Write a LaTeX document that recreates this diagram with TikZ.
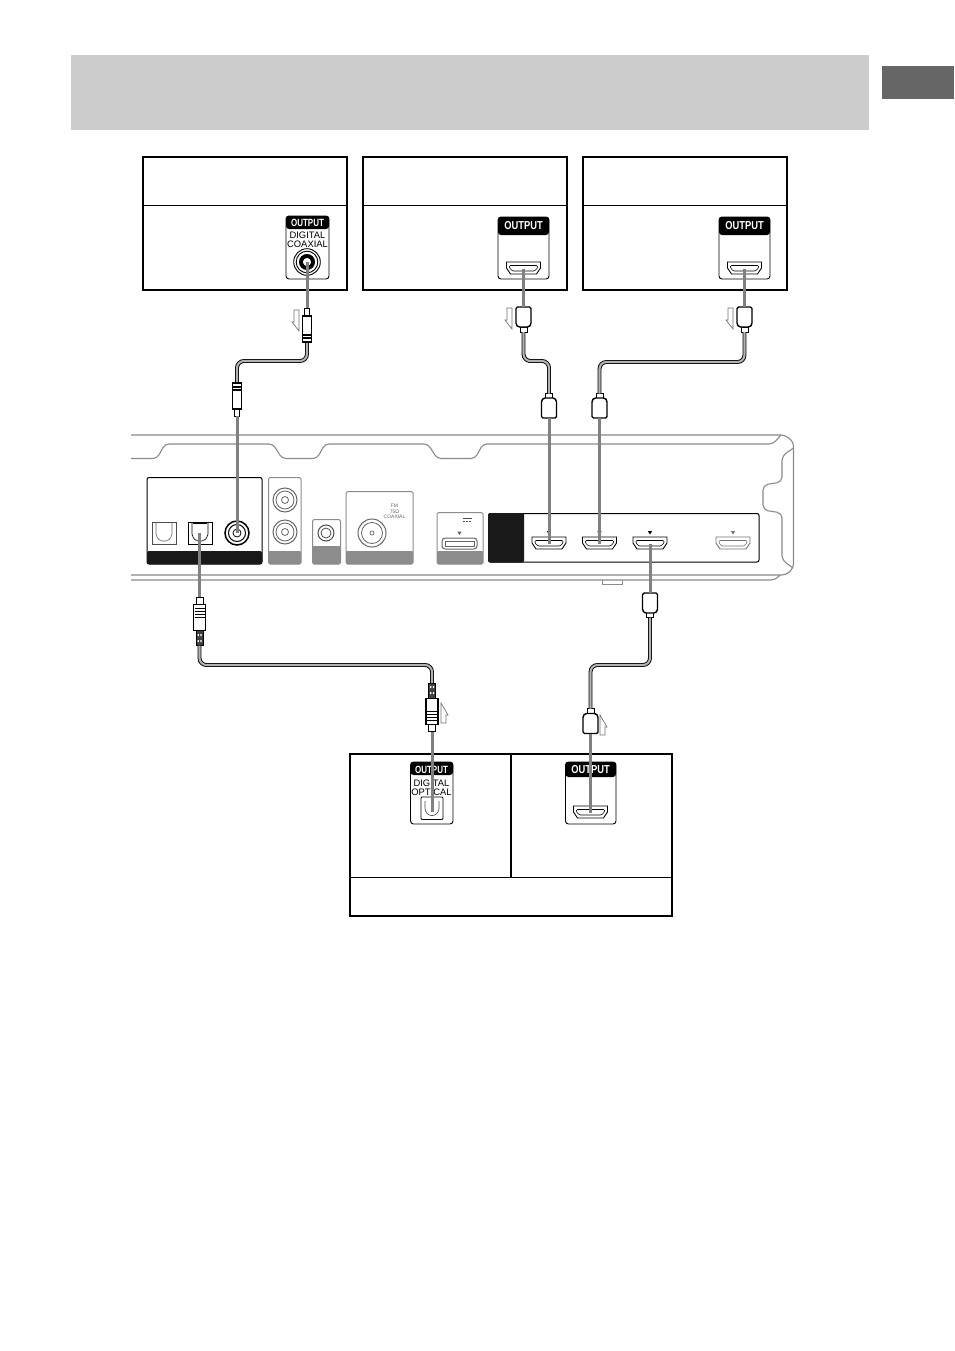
\documentclass[tikz,border=0pt]{standalone}
\usepackage{graphicx}
\usepackage{fontspec}
\setmainfont{Liberation Sans}
\definecolor{pgrey}{HTML}{8C8C8C}
\definecolor{cablegrey}{HTML}{808080}
\definecolor{linegrey}{HTML}{8A8A8A}
\newcommand{\oursmall}{\scalebox{.8}[1.05]{\bfseries\fontsize{10}{10}\selectfont OUTPUT}}
\newcommand{\ourbig}{\scalebox{.85}[1.05]{\bfseries\fontsize{11}{11}\selectfont OUTPUT}}
\tikzset{
  devbox/.style={draw=black,line width=2pt},
  hair/.style={draw=black,line width=1pt},
  badge/.style={draw=black,line width=.9pt,fill=white,rounded corners=3pt},
  outlabel/.style={text=white,inner sep=0pt},
  portlabel/.style={text=black,font=\fontsize{9.4}{9.4}\selectfont,inner sep=0pt,align=center},
  pt/.style={inner sep=0pt,minimum size=0pt,outer sep=0pt},
  signal/.style={draw=cablegrey,line width=3pt},
  cable/.style={draw=black,line width=.9pt,double=white!70!black,double distance=2.1pt,rounded corners=7pt},
  hplugbox/.style={minimum width=15pt,minimum height=20pt,inner sep=0pt,outer sep=0pt},
  hplugline/.style={draw=black,line width=1.4pt,fill=white,rounded corners=1.5pt},
  neck/.style={draw=black,line width=1pt,fill=white,minimum width=7pt,minimum height=5pt,inner sep=0pt,outer sep=0pt},
  oplug/.style={draw=black,line width=1.3pt,fill=white,minimum width=12pt,minimum height=26pt,inner sep=0pt,outer sep=0pt},
  relief/.style={draw=black,fill=black!75,line width=.6pt,minimum width=7pt,minimum height=15pt,inner sep=0pt,outer sep=0pt},
  ctip/.style={draw=black,line width=1pt,fill=white,minimum width=5pt,minimum height=7pt,inner sep=0pt,outer sep=0pt},
  otip/.style={ctip,minimum width=7pt},
  cbody/.style={draw=black,line width=1.2pt,fill=white,minimum width=9pt,minimum height=26pt,inner sep=0pt,outer sep=0pt},
  flow/.style={draw=black!55,line width=.7pt,fill=white},
  panelgrey/.style={draw=pgrey,line width=1pt,fill=white,rounded corners=1.5pt},
  shell/.style={draw=linegrey,line width=1.1pt,rounded corners=4pt},
}
% #1 name, #2 x, #3 y (top of port), #4 colour
\newcommand{\hdmiport}[4]{%
  \draw[#4,line width=.9pt,fill=white] (#2-17,#3) -- (#2+17,#3) -- (#2+17,#3+6) -- (#2+13,#3+12) -- (#2-13,#3+12) -- (#2-17,#3+6) -- cycle;
  \draw[#4,line width=.6pt,rounded corners=1pt] (#2-14,#3+3.5) -- (#2+14,#3+3.5) -- (#2+14,#3+6) -- (#2+11,#3+9) -- (#2-11,#3+9) -- (#2-14,#3+6) -- cycle;
  \node[pt] (#1) at (#2,#3+7) {};}
% plug bodies: #1 name, #2 x, #3 centre y
\newcommand{\hplugdown}[3]{%
  \draw[hplugline] (#2-7.5,#3-10) -- (#2+7.5,#3-10) -- (#2+7.5,#3+7.5) -- (#2+5.5,#3+10) -- (#2-5.5,#3+10) -- (#2-7.5,#3+7.5) -- cycle;
  \node[hplugbox] (#1) at (#2,#3) {};}
\newcommand{\hplugup}[3]{%
  \draw[hplugline] (#2-5.5,#3-10) -- (#2+5.5,#3-10) -- (#2+7.5,#3-7.5) -- (#2+7.5,#3+10) -- (#2-7.5,#3+10) -- (#2-7.5,#3-7.5) -- cycle;
  \node[hplugbox] (#1) at (#2,#3) {};}
\newcommand{\tick}[3]{\fill[#3] (#1-2.2,#2-2) -- (#1+2.2,#2-2) -- (#1,#2+1.5) -- cycle;}
\newcommand{\stripes}[3]{\foreach \s in {0,3,6,9}{\draw[black,line width=1pt] (#1-#3,#2+\s) -- (#1+#3,#2+\s);}}
\newcommand{\downflow}[2]{\draw[flow] (#1+2,#2) -- (#1+7,#2) -- (#1+7,#2+21) -- (#1,#2+12) -- (#1+2,#2+12) -- cycle;}
\newcommand{\upflow}[2]{\draw[flow] (#1,#2) -- (#1+7,#2+12) -- (#1+5,#2+12) -- (#1+5,#2+20) -- (#1,#2+20) -- cycle;}
\begin{document}
\begin{tikzpicture}[x=1pt,y=-1pt]
\useasboundingbox (0,0) rectangle (954,1351);
\fill[white] (0,0) rectangle (954,1351);
% header bands
\fill[black!20] (71,55) rectangle (869,130);
\fill[black!60] (882,66) rectangle (954,99);
% top boxes
\draw[devbox] (143,157) rectangle (347,290);
\draw[hair] (143,205.5) -- (347,205.5);
\draw[devbox] (363,157) rectangle (567,290);
\draw[hair] (363,205.5) -- (567,205.5);
\draw[devbox] (583,157) rectangle (787,290);
\draw[hair] (583,205.5) -- (787,205.5);
% bottom box
\draw[devbox] (350,754) rectangle (672,916);
\draw[hair] (350,877) -- (672,877);
\draw[line width=2pt] (511,754) -- (511,877);
% coaxial badge
\draw[badge] (286,216) rectangle (329,279);
\fill[black,rounded corners=3pt] (286,216) -- (286,229) -- (329,229) -- (329,216) -- cycle;
\node[outlabel] (ocoax) at (307.5,223) {\oursmall};
\node[portlabel] (lcoax) at (307.5,240) {DIGITAL\\[-.6pt]COAXIAL};
\draw[black,line width=.9pt] (307,262) circle (13.3);
\draw[black,line width=.9pt] (307,262) circle (10.8);
\draw[black,line width=4pt] (307,262) circle (6);
\node[pt] (jcoaxout) at (307,262) {};
% HDMI badges
\draw[badge] (498,217) rectangle (549,279);
\fill[black,rounded corners=3pt] (498,217) -- (498,235) -- (549,235) -- (549,217) -- cycle;
\node[outlabel] (ohdmia) at (523.5,225.5) {\ourbig};
\hdmiport{jhdmia}{523.5}{262}{black}
\draw[badge] (719,217) rectangle (770,279);
\fill[black,rounded corners=3pt] (719,217) -- (719,235) -- (770,235) -- (770,217) -- cycle;
\node[outlabel] (ohdmib) at (744.5,225.5) {\ourbig};
\hdmiport{jhdmib}{744.5}{262}{black}
% optical badge
\draw[badge] (410.5,762) rectangle (453,824);
\fill[black,rounded corners=3pt] (410.5,762) -- (410.5,775) -- (453,775) -- (453,762) -- cycle;
\node[outlabel] (oopt) at (431.5,769.5) {\oursmall};
\node[portlabel] (lopt) at (431.5,787.5) {DIGITAL\\[-.6pt]OPTICAL};
\draw[black,line width=.8pt,rounded corners=1pt] (421,797) rectangle (443,819.5);
\draw[black!70,line width=.6pt,rounded corners=2.5pt] (425,801) -- (425,811) -- (429,815.5) -- (435,815.5) -- (439,811) -- (439,801);
\node[pt] (joptout) at (432,812) {};
% HDMI badge bottom
\draw[badge] (565.5,762) rectangle (616,824);
\fill[black,rounded corners=3pt] (565.5,762) -- (565.5,777) -- (616,777) -- (616,762) -- cycle;
\node[outlabel] (ohdmic) at (590.5,770) {\ourbig};
\hdmiport{jhdmic}{590.5}{806}{black}
% receiver shell
\draw[shell] (131,435) -- (785,435) -- (793.5,442) -- (793.5,568) -- (786,575) -- (131,575);
\draw[shell] (131,458.5) -- (157,458.5) -- (165,444) -- (273,444) -- (282,458.5) -- (317,458.5) -- (325,444) -- (428,444) -- (437,458.5) -- (475,458.5) -- (483,444) -- (773,444) -- (781,435);
\draw[shell] (131,580) -- (775,580) -- (780,575);
\draw[shell,rounded corners=5pt] (793.5,448) -- (782,456) -- (782,482) -- (763,485) -- (763,510) -- (782,513) -- (782,560) -- (793,568);
\draw[linegrey,line width=1pt] (602,580) -- (602,584) -- (622,584) -- (622,580);
% speaker/in panels
\draw[black,line width=1pt,fill=white,rounded corners=2pt] (147,477.5) rectangle (262,564);
\fill[black!90,rounded corners=1.5pt] (147,551) rectangle (262,564);
\draw[black!70,line width=.8pt] (152,522) rectangle (176,544);
\draw[black!60,line width=.6pt,rounded corners=2pt] (156,523) -- (156,536) -- (160,541) -- (168,541) -- (172,536) -- (172,523);
\draw[black,line width=.8pt] (188,522) rectangle (212,544);
\draw[black,line width=.6pt,rounded corners=2pt] (192,523) -- (192,536) -- (196,541) -- (204,541) -- (208,536) -- (208,523);
\draw[black,line width=1.6pt] (193,523.5) -- (207,523.5);
\node[pt] (joptin) at (199.5,533) {};
\draw[black,line width=1.5pt] (237,533) circle (12);
\draw[black,line width=1pt] (237,533) circle (8.5);
\draw[black,line width=.8pt] (237,533) circle (4);
\node[pt] (jcoaxin) at (237,533) {};
\draw[panelgrey] (268.5,477.5) rectangle (301,564);
\fill[pgrey,rounded corners=1pt] (268.5,551) rectangle (301,564);
\foreach \yy in {500,532}{
  \draw[black!60,line width=1pt] (285,\yy) circle (12);
  \draw[black!60,line width=.8pt] (285,\yy) circle (9);
  \draw[black!60,line width=.8pt] (285,\yy) circle (3.5);}
\draw[panelgrey] (312.5,519.5) rectangle (340.5,564);
\fill[pgrey,rounded corners=1pt] (312.5,546) rectangle (340.5,564);
\draw[black!70,line width=1pt] (326,533) circle (8);
\draw[black!70,line width=.8pt] (326,533) circle (5);
\draw[panelgrey] (346,491.5) rectangle (413,564);
\fill[pgrey,rounded corners=1pt] (346,551) rectangle (413,564);
\draw[black!60,line width=1pt] (372,533) circle (14);
\draw[black!60,line width=.8pt] (372,533) circle (10.5);
\draw[black!60,line width=.7pt] (372,533) circle (2);
\node[text=black!60,font=\fontsize{5}{5.3}\selectfont,align=center,inner sep=0pt] (fmtxt) at (394.5,511.5) {FM\\75Ω\\COAXIAL};
% DC panel
\draw[panelgrey] (437,512.5) rectangle (483,564);
\fill[pgrey,rounded corners=1pt] (437,551) rectangle (483,564);
\draw[black!70,line width=.7pt] (463,518.5) -- (471.5,518.5);
\draw[black!70,line width=.7pt,dash pattern=on 2pt off 1pt] (463,521) -- (471.5,521);
\tick{459.5}{533.5}{black!60}
\draw[black!60,line width=1pt,rounded corners=3pt] (442,538) rectangle (477,549);
\draw[black!60,line width=.8pt] (445,541) rectangle (474,546);
% HDMI panel
\draw[black,line width=1pt,fill=white,rounded corners=2pt] (488.5,513.5) rectangle (759,562);
\fill[black!90,rounded corners=1.5pt] (488,513) -- (488,562.5) -- (524,562.5) -- (524,513) -- cycle;
\hdmiport{jrxa}{549}{537}{black}
\hdmiport{jrxb}{599.5}{537}{black}
\hdmiport{jrxc}{650}{537}{black}
\hdmiport{jrxd}{733}{537}{black!55}
\tick{549}{533}{black}
\tick{599.5}{533}{black}
\tick{650}{533}{black}
\tick{733}{533}{black!55}
% plugs: nodes
\node[ctip] (tipa) at (307,311.5) {};
\node[cbody] (cba) at (307,329) {};
\node[cbody] (cbb) at (237,396) {};
\node[ctip] (tipb) at (237,412.5) {};
\coordinate (ca) at (270,361);
\node[neck] (nka) at (523.5,329.5) {};
\hplugdown{hpa}{523.5}{317}
\coordinate (cb) at (535,361);
\node[neck] (nkb) at (549,396) {};
\hplugup{hpb}{549}{408}
\node[neck] (nkc) at (744.5,329.5) {};
\hplugdown{hpc}{744.5}{317}
\coordinate (cc) at (670,362);
\node[neck] (nkd) at (599.5,396) {};
\hplugup{hpd}{599.5}{408}
\node[neck] (nke) at (650,615) {};
\hplugdown{hpe}{650}{603}
\coordinate (ce) at (620,665);
\node[neck] (nkf) at (590.5,711) {};
\hplugup{hpf}{590.5}{723.5}
\node[otip] (otipa) at (199.5,600.5) {};
\node[oplug] (opa) at (199.5,617.5) {};
\node[relief] (rla) at (199.5,638) {};
\coordinate (cf) at (320,665);
\node[relief] (rlb) at (432,690.5) {};
\node[oplug] (opb) at (432,711.5) {};
\node[otip] (otipb) at (432,728) {};
% cables
\draw[cable] (cba.south) |- (ca) -| (cbb.north);
\draw[cable] (nka.south) |- (cb) -| (nkb.north);
\draw[cable] (nkc.south) |- (cc) -| (nkd.north);
\draw[cable] (nke.south) |- (ce) -| (nkf.north);
\draw[cable] (rla.south) |- (cf) -| (rlb.north);
% plug bodies above cable ends
\node[cbody] (cba2) at (307,329) {};
\draw[black,line width=1.2pt] (302.5,335) -- (311.5,335) (302.5,338) -- (311.5,338);
\node[cbody] (cbb2) at (237,396) {};
\draw[black,line width=1.2pt] (232.5,387) -- (241.5,387) (232.5,390) -- (241.5,390);
\stripes{199.5}{608}{5}
\stripes{432}{711}{5}
\fill[white] (197.5,634) rectangle (198.8,636) (197.5,640) rectangle (198.8,642) (200.3,634) rectangle (201.5,636) (200.3,640) rectangle (201.5,642);
\fill[white] (430,686) rectangle (431.3,688) (430,692) rectangle (431.3,694) (432.8,686) rectangle (434,688) (432.8,692) rectangle (434,694);
% flow arrows
\downflow{292}{310}
\downflow{505}{308}
\downflow{726}{308}
\upflow{441}{703}
\upflow{600}{715}
% signal lines
\draw[signal] (jcoaxout) -- (tipa.north);
\draw[signal] (tipb.south) -- (jcoaxin);
\draw[signal] (jhdmia) -- (hpa.north);
\draw[signal] (jhdmib) -- (hpc.north);
\draw[signal] (hpb.south) -- (jrxa);
\draw[signal] (hpd.south) -- (jrxb);
\draw[signal] (jrxc) -- (hpe.north);
\draw[signal] (hpf.south) -- (jhdmic);
\draw[signal] (joptin) -- (otipa.north);
\draw[signal] (otipb.south) -- (joptout);
\end{tikzpicture}
\end{document}
